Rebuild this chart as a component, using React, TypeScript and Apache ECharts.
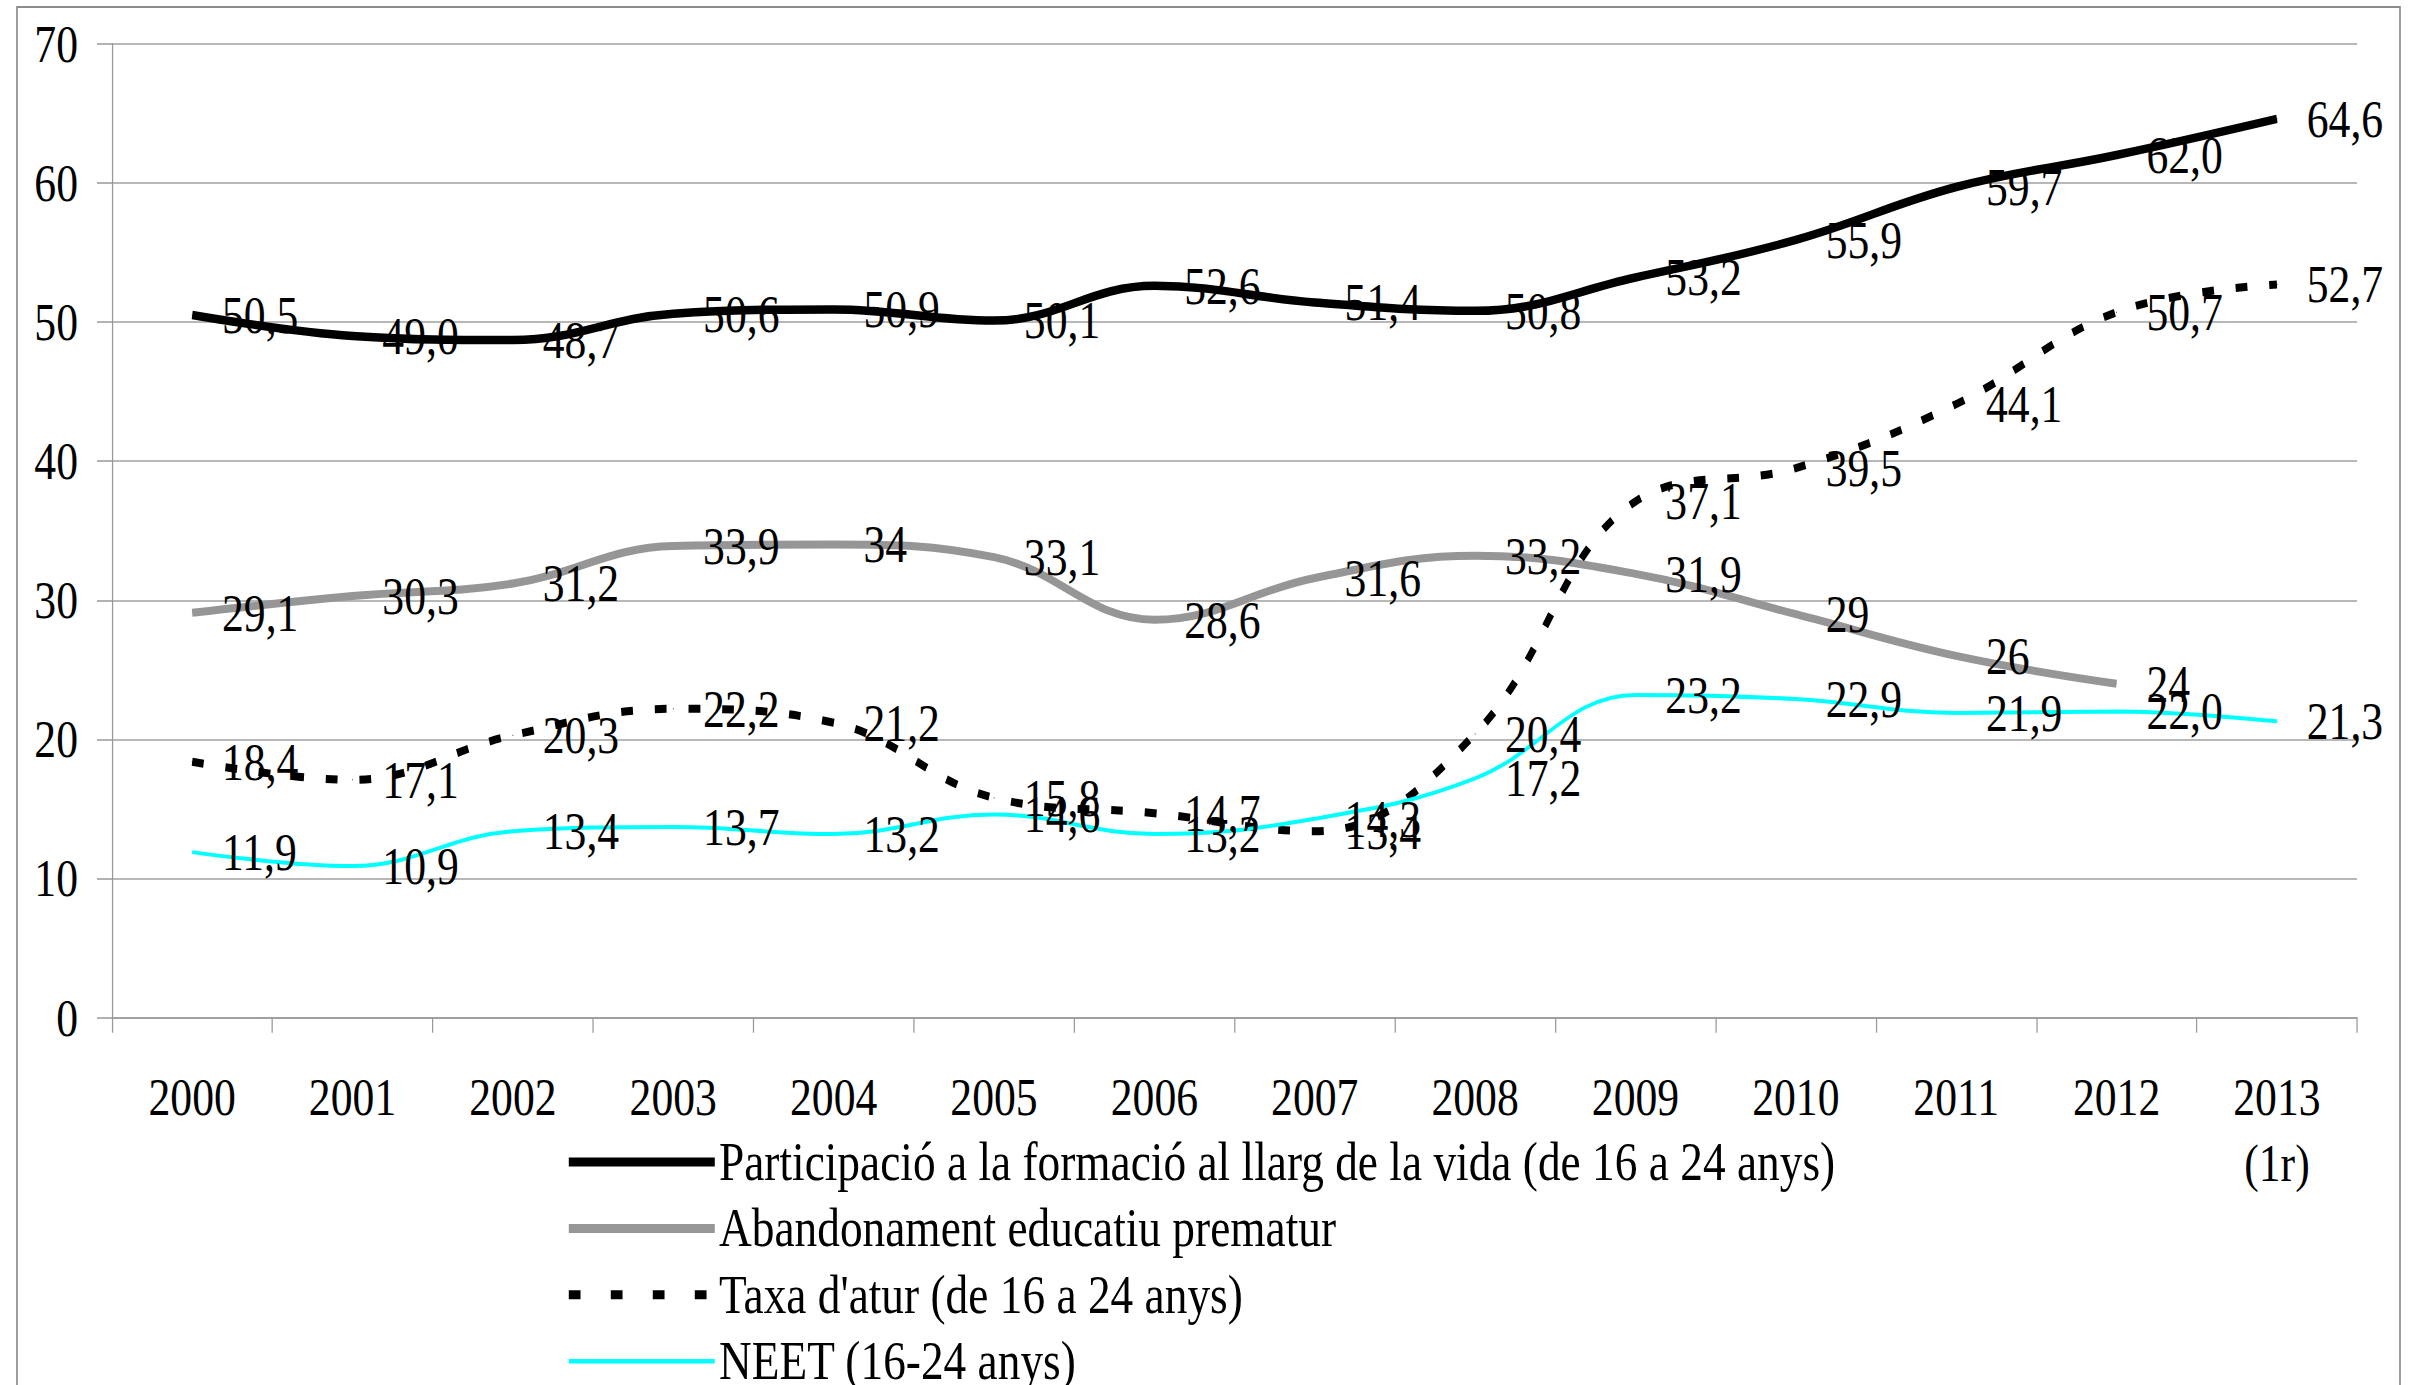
import React, { useEffect, useRef } from "react";
import * as echarts from "echarts";

// Horizontal squeeze of the reference drawing (its text is condensed)
const S = 0.84;
const W = 2409 / S;
const H = 1385;
const px = (x: number) => x / S;

const FONT = "'Liberation Serif', 'Times New Roman', Times, serif";

const years = [
  "2000", "2001", "2002", "2003", "2004", "2005", "2006",
  "2007", "2008", "2009", "2010", "2011", "2012", "2013\n(1r)",
];

const participacio = [50.5, 49.0, 48.7, 50.6, 50.9, 50.1, 52.6, 51.4, 50.8, 53.2, 55.9, 59.7, 62.0, 64.6];
const abandonament = [29.1, 30.3, 31.2, 33.9, 34, 33.1, 28.6, 31.6, 33.2, 31.9, 29, 26, 24, null];
const atur = [18.4, 17.1, 20.3, 22.2, 21.2, 15.8, 14.7, 13.4, 20.4, 37.1, 39.5, 44.1, 50.7, 52.7];
const neet = [11.9, 10.9, 13.4, 13.7, 13.2, 14.6, 13.2, 14.3, 17.2, 23.2, 22.9, 21.9, 22.0, 21.3];

const seriesNames = [
  "Participació a la formació al llarg de la vida (de 16 a 24 anys)",
  "Abandonament educatiu prematur",
  "Taxa d'atur (de 16 a 24 anys)",
  "NEET (16-24 anys)",
];

const fixed1 = (p: any) => {
  const v = Array.isArray(p.value) ? p.value[1] : p.value;
  if (v === null || v === undefined || v === "-") return "";
  return Number(v).toFixed(1).replace(".", ",");
};
const general = (p: any) => {
  const v = Array.isArray(p.value) ? p.value[1] : p.value;
  if (v === null || v === undefined || v === "-") return "";
  return String(v).replace(".", ",");
};

export default function App() {
  const ref = useRef<HTMLDivElement>(null);

  useEffect(() => {
    document.body.style.margin = "0";
    document.body.style.overflow = "hidden";
    if (!ref.current) return;
    const chart = echarts.init(ref.current, undefined, { renderer: "svg" });

    const labelBase = {
      show: true,
      position: "right" as const,
      distance: 35,
      fontSize: 52,
      color: "#000",
      fontFamily: FONT,
    };

    const mk = (name: string, data: any[], color: string, width: number, type: any, fmt: any) => ({
      name,
      type: "line",
      data,
      smooth: 0.4,
      symbol: "circle",
      symbolSize: 1,
      showSymbol: true,
      showAllSymbol: true,
      connectNulls: false,
      itemStyle: { color },
      lineStyle: { color, width, type, cap: "butt" },
      label: { ...labelBase, formatter: fmt },
      emphasis: { disabled: true },
    });

    const axisGrey = "#999999";

    chart.setOption({
      animation: false,
      textStyle: { fontFamily: FONT },
      grid: {
        left: px(112),
        right: W - px(2357),
        top: 43.7,
        bottom: H - 1017.7,
        containLabel: false,
      },
      xAxis: {
        type: "category",
        data: years,
        boundaryGap: true,
        axisLine: { show: true, lineStyle: { color: axisGrey, width: 1.5 } },
        axisTick: { show: true, length: 15, lineStyle: { color: axisGrey, width: 1.5 } },
        axisLabel: {
          interval: 0,
          fontSize: 52,
          lineHeight: 66,
          color: "#000",
          margin: 46,
          fontFamily: FONT,
        },
        splitLine: { show: false },
      },
      yAxis: {
        type: "value",
        min: 0,
        max: 70,
        interval: 10,
        axisLine: { show: true, lineStyle: { color: axisGrey, width: 1.5 } },
        axisTick: { show: true, length: px(15), lineStyle: { color: axisGrey, width: 1.5 } },
        axisLabel: { fontSize: 52, color: "#000", margin: px(34), fontFamily: FONT },
        splitLine: { show: true, lineStyle: { color: "#a0a0a0", width: 1.5 } },
      },
      legend: {
        orient: "vertical",
        left: px(565),
        top: 1135,
        height: 300,
        itemWidth: px(146),
        itemHeight: 20,
        itemGap: 12.4,
        padding: 0,
        selectedMode: false,
        itemStyle: { opacity: 0 },
        textStyle: { fontSize: 54, lineHeight: 50, color: "#000", fontFamily: FONT },
        data: [
          { name: seriesNames[0], lineStyle: { color: "#000", width: 9, type: "solid" } },
          { name: seriesNames[1], lineStyle: { color: "#969696", width: 9, type: "solid" } },
          { name: seriesNames[2], lineStyle: { color: "#000", width: 9, type: [14, 36], cap: "butt" } },
          { name: seriesNames[3], lineStyle: { color: "#00FFFF", width: 4.5, type: "solid" } },
        ],
      },
      graphic: [
        {
          type: "rect",
          silent: true,
          z: -10,
          shape: { x: px(17), y: 7, width: px(2400) - px(17), height: 1500 },
          style: { fill: "none", stroke: "#8c8c8c", lineWidth: 2 },
        },
      ],
      series: [
        mk(seriesNames[0], participacio, "#000000", 8.5, "solid", fixed1),
        mk(seriesNames[1], abandonament, "#969696", 8, "solid", general),
        mk(seriesNames[2], atur, "#000000", 8, [14, 26], fixed1),
        mk(seriesNames[3], neet, "#00FFFF", 4, "solid", fixed1),
      ],
    });

    return () => chart.dispose();
  }, []);

  return (
    <div
      ref={ref}
      style={{
        position: "fixed",
        left: 0,
        top: 0,
        width: `${W}px`,
        height: `${H}px`,
        transform: `scaleX(${S})`,
        transformOrigin: "0 0",
        background: "#fff",
      }}
    />
  );
}
